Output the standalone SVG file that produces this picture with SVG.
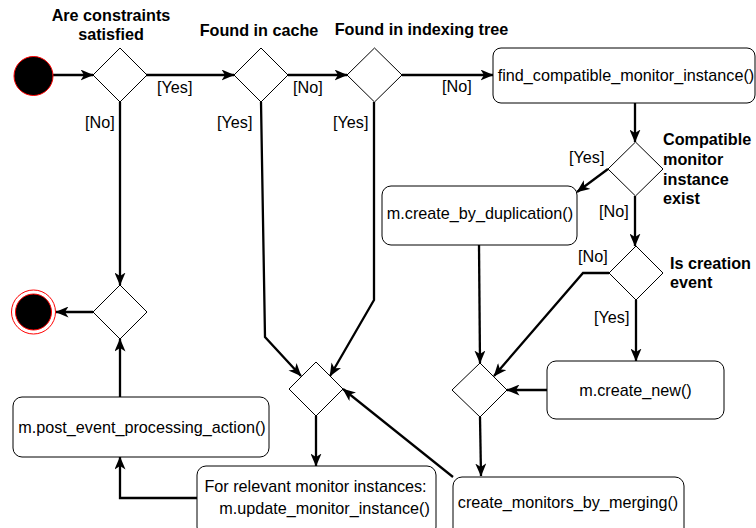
<svg xmlns="http://www.w3.org/2000/svg" width="756" height="528" viewBox="0 0 756 528">
  <style>
    text { font-family: "Liberation Sans", Arial, sans-serif; font-size: 16.2px; fill: #000; }
    .title { font-weight: bold; }
    .mid { text-anchor: middle; }
    .box { fill: #fff; stroke: #000; stroke-width: 1; }
    .dia { fill: #fff; stroke: #000; stroke-width: 1; }
    .edge { fill: none; stroke: #000; stroke-width: 2.3; marker-end: url(#arrow); }
  </style>
  <defs>
    <marker id="arrow" viewBox="0 0 13 11" refX="12.5" refY="5.5" markerWidth="13" markerHeight="11" markerUnits="userSpaceOnUse" orient="auto">
      <path d="M0,0 L13,5.5 L0,11 L3.5,5.5 Z" fill="#000"/>
    </marker>
  </defs>

  <rect width="756" height="528" fill="#fff"/>

  <!-- connectors -->
  <g id="connectors">
    <path class="edge" d="M53,75 L93,75"/>
    <path class="edge" d="M146,75 L234,75"/>
    <path class="edge" d="M288,75 L347,75"/>
    <path class="edge" d="M402,75 L493,75"/>
    <path class="edge" d="M120,102 L120,285"/>
    <path class="edge" d="M261,102 L265,337 L301,376"/>
    <path class="edge" d="M374,102 L374,300 L330,376"/>
    <path class="edge" d="M316,416 L316,466"/>
    <path class="edge" d="M197,498 L120,498 L120,457"/>
    <path class="edge" d="M120,397 L120,339"/>
    <path class="edge" d="M93,312 L56,312"/>
    <path class="edge" d="M635,103 L635,142"/>
    <path class="edge" d="M608,169 L577,192"/>
    <path class="edge" d="M635,196 L635,246"/>
    <path class="edge" d="M609,273 L583,273 L494,376"/>
    <path class="edge" d="M636,300 L636,361"/>
    <path class="edge" d="M547,390 L507,390"/>
    <path class="edge" d="M479,245 L480,363"/>
    <path class="edge" d="M480,417 L481,476"/>
    <path class="edge" d="M453,477 L343,389"/>
  </g>

  <!-- connector labels -->
  <g id="edge-labels">
    <text x="157" y="93">[Yes]</text>
    <text x="293" y="93">[No]</text>
    <text x="442" y="92">[No]</text>
    <text x="85" y="128">[No]</text>
    <text x="217" y="128">[Yes]</text>
    <text x="333" y="128">[Yes]</text>
    <text x="569" y="163">[Yes]</text>
    <text x="599" y="217">[No]</text>
    <text x="578" y="262">[No]</text>
    <text x="594" y="323">[Yes]</text>
  </g>

  <!-- start / end -->
  <g id="start">
    <circle cx="33.5" cy="76" r="19.5" fill="#000" stroke="#ff0000" stroke-width="1"/>
  </g>
  <g id="end">
    <circle cx="33.5" cy="312" r="22" fill="#fff" stroke="#ff0000" stroke-width="1"/>
    <circle cx="33.5" cy="312" r="18" fill="#000" stroke="#ff0000" stroke-width="1"/>
  </g>

  <!-- decisions -->
  <g id="constraints-check">
    <polygon class="dia" points="93,75 120,48 147,75 120,102"/>
    <text class="title mid" x="111" y="21">Are constraints</text>
    <text class="title mid" x="111" y="40">satisfied</text>
  </g>
  <g id="cache-check">
    <polygon class="dia" points="234,75 261,48 288,75 261,102"/>
    <text class="title mid" x="259" y="36">Found in cache</text>
  </g>
  <g id="tree-check">
    <polygon class="dia" points="347,75 374.5,48 402,75 374.5,102"/>
    <text class="title mid" x="421.5" y="35">Found in indexing tree</text>
  </g>
  <g id="compatible-check">
    <polygon class="dia" points="608,169 635.5,142 663,169 635.5,196"/>
    <text class="title" x="663" y="145">Compatible</text>
    <text class="title" x="663" y="165">monitor</text>
    <text class="title" x="663" y="185">instance</text>
    <text class="title" x="663" y="204">exist</text>
  </g>
  <g id="creation-check">
    <polygon class="dia" points="609,273 636,246 663,273 636,300"/>
    <text class="title" x="670" y="269">Is creation</text>
    <text class="title" x="670" y="288">event</text>
  </g>
  <g id="end-merge">
    <polygon class="dia" points="93,312 120,285 147,312 120,339"/>
  </g>
  <g id="update-merge">
    <polygon class="dia" points="289,389 316,362 343,389 316,416"/>
  </g>
  <g id="create-merge">
    <polygon class="dia" points="452,390 480,363 507,390 480,417"/>
  </g>

  <!-- actions -->
  <g id="find-compatible">
    <rect class="box" x="493" y="48" width="262" height="55" rx="8"/>
    <text class="mid" x="626" y="81">find_compatible_monitor_instance()</text>
  </g>
  <g id="create-by-duplication">
    <rect class="box" x="382" y="186" width="195" height="59" rx="9"/>
    <text class="mid" x="480" y="219">m.create_by_duplication()</text>
  </g>
  <g id="create-new">
    <rect class="box" x="547" y="361" width="177" height="58" rx="9"/>
    <text class="mid" x="635.5" y="396">m.create_new()</text>
  </g>
  <g id="create-by-merging">
    <rect class="box" x="453" y="477" width="231" height="60" rx="9"/>
    <text class="mid" x="568" y="508">create_monitors_by_merging()</text>
  </g>
  <g id="update-instances">
    <rect class="box" x="197" y="466" width="239" height="70" rx="9"/>
    <text class="mid" x="315.5" y="492">For relevant monitor instances:</text>
    <text class="mid" x="324.5" y="514">m.update_monitor_instance()</text>
  </g>
  <g id="post-event">
    <rect class="box" x="13" y="397" width="256" height="60" rx="9"/>
    <text class="mid" x="142" y="433">m.post_event_processing_action()</text>
  </g>
</svg>
